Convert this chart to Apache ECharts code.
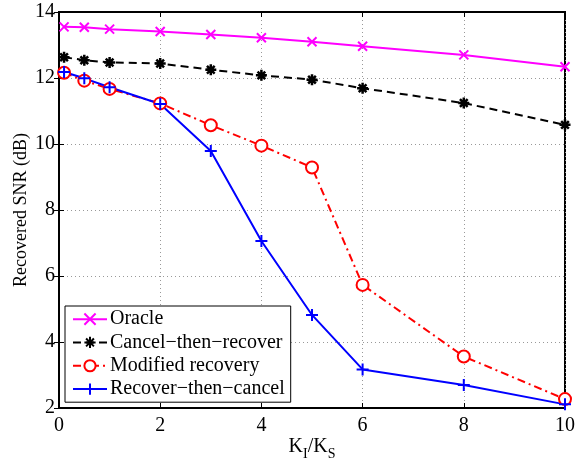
<!DOCTYPE html>
<html>
<head>
<meta charset="utf-8">
<script src="https://cdn.jsdelivr.net/npm/echarts@6/dist/echarts.min.js"></script>
<style>html,body{margin:0;padding:0;background:#fff}#c{width:581px;height:459px}</style>
</head>
<body>
<div id="c"></div>
<script>
var xValues = [0.1, 0.5, 1, 2, 3, 4, 5, 6, 8, 10];
var oracle = [13.55, 13.54, 13.48, 13.41, 13.32, 13.22, 13.10, 12.96, 12.70, 12.34];
var cancelThenRecover = [12.63, 12.54, 12.47, 12.44, 12.25, 12.08, 11.95, 11.69, 11.24, 10.58];
var modifiedRecovery = [12.16, 11.92, 11.67, 11.23, 10.57, 9.95, 9.29, 5.73, 3.56, 2.27];
var recoverThenCancel = [12.18, 11.99, 11.72, 11.21, 9.79, 7.06, 4.82, 3.17, 2.70, 2.11];
var seriesNames = ['Oracle', 'Cancel\u2212then\u2212recover', 'Modified recovery', 'Recover\u2212then\u2212cancel'];
var xTicks = [0, 2, 4, 6, 8, 10];
var yTicks = [2, 4, 6, 8, 10, 12, 14];

function pairs(ys) { return xValues.map(function (x, i) { return [x, ys[i]]; }); }

var FONT = '"Liberation Serif", "Times New Roman", serif';
var symX = 'path://M0,0L10,10M10,0L0,10';
var symStar = 'path://M5,0L5,10M0,5L10,5M1.5,1.5L8.5,8.5M8.5,1.5L1.5,8.5';
var symPlus = 'path://M5,0L5,10M0,5L10,5';

var chart = echarts.init(document.getElementById('c'), null, {renderer: 'canvas'});
var gridLine = {show: true, lineStyle: {color: '#999', type: [1, 3], width: 1}};
var option = {
  animation: false,
  backgroundColor: '#fff',
  grid: {left: 59, right: 16, top: 12, bottom: 51, show: true, borderColor: '#000', borderWidth: 2, outerBoundsMode: 'none', containLabel: false},
  xAxis: [{
    type: 'value', min: xTicks[0], max: xTicks[xTicks.length - 1], interval: 2,
    name: '{k|K}{s|I}{k|/K}{s|S}', nameLocation: 'middle', nameGap: 24, nameMoveOverlap: false,
    nameTextStyle: {rich: {k: {fontFamily: FONT, fontSize: 20, color: '#000'}, s: {fontFamily: FONT, fontSize: 14, color: '#000', verticalAlign: 'top', padding: [15, 0, 0, 0]}}},
    axisLine: {show: true, lineStyle: {color: '#000', width: 2}},
    axisTick: {inside: true, length: 5, lineStyle: {color: '#000', width: 1}},
    axisLabel: {fontFamily: FONT, fontSize: 20, color: '#000', margin: 8},
    splitLine: gridLine
  }, {
    type: 'value', min: xTicks[0], max: xTicks[xTicks.length - 1], interval: 2, position: 'top',
    axisLine: {show: true, lineStyle: {color: '#000', width: 2}},
    axisTick: {inside: true, length: 5, lineStyle: {color: '#000', width: 1}},
    axisLabel: {show: false}, splitLine: {show: false}
  }],
  yAxis: [{
    type: 'value', min: yTicks[0], max: yTicks[yTicks.length - 1], interval: 2,
    name: 'Recovered SNR (dB)', nameLocation: 'middle', nameGap: 29, nameMoveOverlap: false,
    nameTextStyle: {fontFamily: FONT, fontSize: 18, color: '#000'},
    axisLine: {show: true, lineStyle: {color: '#000', width: 2}},
    axisTick: {inside: true, length: 5, lineStyle: {color: '#000', width: 1}},
    axisLabel: {fontFamily: FONT, fontSize: 20, color: '#000', margin: 4},
    splitLine: gridLine
  }, {
    type: 'value', min: yTicks[0], max: yTicks[yTicks.length - 1], interval: 2, position: 'right',
    axisLine: {show: true, lineStyle: {color: '#000', width: 2}},
    axisTick: {inside: true, length: 5, lineStyle: {color: '#000', width: 1}},
    axisLabel: {show: false}, splitLine: {show: false}
  }],
  legend: {
    orient: 'vertical', left: 65, top: 306,
    backgroundColor: '#fff', borderColor: '#000', borderWidth: 1,
    padding: [3, 6, 3, 7], itemGap: 3, itemWidth: 34, itemHeight: 14,
    textStyle: {fontFamily: FONT, fontSize: 20, color: '#000', lineHeight: 20.3, padding: [0, 0, 0, -2]},
    data: seriesNames
  },
  series: [{
    name: seriesNames[0], type: 'line', data: pairs(oracle),
    symbol: symX, symbolSize: 9,
    lineStyle: {color: '#ff00ff', width: 2},
    itemStyle: {color: '#ff00ff', borderColor: '#ff00ff', borderWidth: 2}
  }, {
    name: seriesNames[1], type: 'line', data: pairs(cancelThenRecover),
    symbol: symStar, symbolSize: 11,
    lineStyle: {color: '#000', width: 2, type: [8, 5]},
    itemStyle: {color: '#000', borderColor: '#000', borderWidth: 2.5}
  }, {
    name: seriesNames[2], type: 'line', data: pairs(modifiedRecovery),
    symbol: 'emptyCircle', symbolSize: 12,
    lineStyle: {color: '#ff0000', width: 2, type: [8, 4, 2, 4]},
    itemStyle: {color: '#ff0000', borderColor: '#ff0000', borderWidth: 2}
  }, {
    name: seriesNames[3], type: 'line', data: pairs(recoverThenCancel),
    symbol: symPlus, symbolSize: 12,
    lineStyle: {color: '#0000ff', width: 2},
    itemStyle: {color: '#0000ff', borderColor: '#0000ff', borderWidth: 2}
  }]
};
chart.setOption(option);
</script>
</body>
</html>
